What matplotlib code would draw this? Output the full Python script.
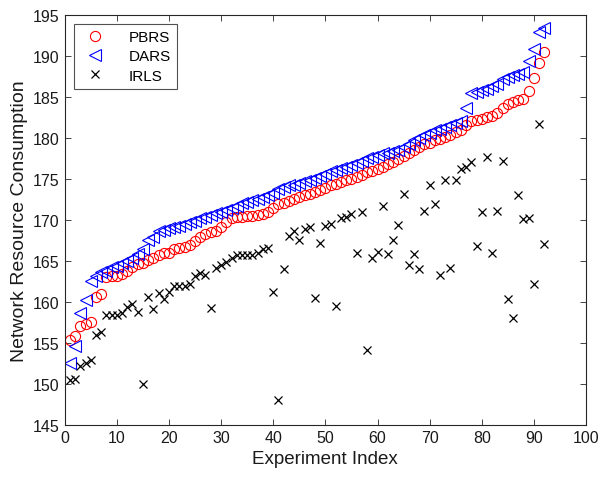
# Network resource consumption of three schemes over experiments
import numpy as np
import matplotlib
matplotlib.use("Agg")
import matplotlib.pyplot as plt

plt.rcParams['font.family'] = ['Liberation Sans', 'DejaVu Sans']

# Data
experiment = list(range(1, 93))

pbrs = [155.4, 155.8, 157.1, 157.3, 157.6, 160.6, 161.0, 163.0, 163.2, 163.2,
        163.4, 163.8, 164.2, 164.6, 164.8, 165.1, 165.4, 165.7, 165.9, 166.0,
        166.4, 166.6, 166.7, 166.9, 167.4, 167.9, 168.3, 168.5, 168.6, 169.1,
        169.7, 170.2, 170.3, 170.4, 170.5, 170.5, 170.6, 170.7, 170.9, 171.4,
        171.9, 172.1, 172.3, 172.6, 172.8, 173.0, 173.2, 173.4, 173.6, 173.9,
        174.2, 174.4, 174.6, 174.8, 175.0, 175.2, 175.5, 175.8, 176.0, 176.2,
        176.5, 176.8, 177.1, 177.4, 177.8, 178.2, 178.5, 178.9, 179.2, 179.4,
        179.7, 179.9, 180.1, 180.4, 180.7, 181.0, 181.6, 182.0, 182.2, 182.3,
        182.5, 182.7, 183.0, 183.6, 184.1, 184.4, 184.6, 184.7, 185.7, 187.3,
        189.1, 190.4]

dars = [152.6, 154.6, 158.7, 160.2, 162.6, 163.2, 163.6, 163.8, 164.2, 164.4,
        164.8, 165.0, 165.3, 165.8, 166.4, 167.5, 167.9, 168.6, 168.8, 169.0,
        169.1, 169.3, 169.5, 169.7, 169.9, 170.2, 170.4, 170.6, 170.8, 171.0,
        171.2, 171.4, 171.7, 172.0, 172.2, 172.4, 172.6, 172.8, 173.0, 173.3,
        173.8, 174.0, 174.2, 174.3, 174.5, 174.7, 174.9, 175.1, 175.3, 175.6,
        175.9, 176.1, 176.3, 176.5, 176.7, 176.9, 177.2, 177.5, 177.7, 177.9,
        178.1, 178.2, 178.4, 178.5, 178.9, 179.3, 179.7, 180.0, 180.3, 180.6,
        180.9, 181.1, 181.3, 181.6, 181.8, 182.1, 183.6, 185.4, 185.6, 185.8,
        186.0, 186.3, 186.6, 187.2, 187.4, 187.6, 187.8, 188.0, 189.3, 190.8,
        192.9, 193.4]

irls = [150.5, 150.6, 152.2, 152.5, 152.9, 156.0, 156.3, 158.4, 158.4, 158.4,
        158.7, 159.4, 159.7, 158.8, 150.0, 160.6, 159.1, 161.1, 160.3, 161.2,
        161.9, 161.9, 162.0, 162.2, 163.2, 163.5, 163.3, 159.3, 164.1, 164.5,
        164.9, 165.3, 165.7, 165.7, 165.7, 165.7, 166.0, 166.5, 166.6, 161.2,
        148.0, 164.0, 168.0, 168.7, 167.6, 168.9, 169.1, 160.5, 167.2, 169.3,
        169.5, 159.5, 170.2, 170.3, 170.7, 166.0, 170.9, 154.1, 165.4, 166.1,
        171.7, 165.8, 167.6, 169.4, 173.1, 164.5, 165.8, 164.0, 171.1, 174.2,
        171.9, 163.3, 174.8, 164.1, 174.9, 176.2, 176.4, 177.0, 166.8, 170.9,
        177.6, 166.0, 171.1, 177.2, 160.3, 158.0, 173.0, 170.1, 170.2, 162.2,
        181.7, 167.0]

fig = plt.figure(figsize=(5.98, 4.81), dpi=100)
ax = fig.add_axes([0.1082, 0.1143, 0.8718, 0.8531])

ax.plot(experiment, pbrs, 'o', color='red', markerfacecolor='none',
        markersize=7.3, markeredgewidth=0.8, label='PBRS')
ax.plot(experiment, dars, '<', color='blue', markerfacecolor='none',
        markersize=8, markeredgewidth=0.8, label='DARS')
ax.plot(experiment, irls, 'x', color='black',
        markersize=5.5, markeredgewidth=0.9, label='IRLS')

ax.set_xlim(0, 100)
ax.set_ylim(145, 195)
ax.set_xticks(np.arange(0, 101, 10))
ax.set_yticks(np.arange(145, 196, 5))

axis_color = '#262626'
for s in ax.spines.values():
    s.set_color(axis_color)
    s.set_linewidth(0.8)
ax.tick_params(direction='in', top=True, right=True, length=4, width=0.6,
               colors=axis_color, labelsize=11.5, labelcolor='#1a1a1a')

ax.set_xlabel('Experiment Index', fontsize=13.5, color='#1a1a1a')
ax.set_ylabel('Network Resource Consumption', fontsize=14, color='#1a1a1a')

leg = ax.legend(loc='upper left', fontsize=11, frameon=True, fancybox=False,
                edgecolor=axis_color, borderaxespad=0.6, handletextpad=1.2,
                borderpad=0.4, labelspacing=0.35)
leg.get_frame().set_linewidth(0.8)

fig.savefig('out.png', dpi=100)
